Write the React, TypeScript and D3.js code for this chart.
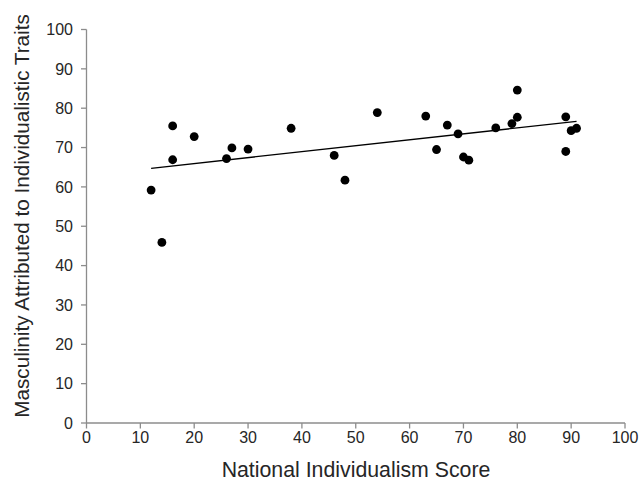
import React from "react";
import * as d3 from "d3";

const xValues = [12, 14, 16, 16, 20, 26, 27, 30, 38, 46, 48, 54, 63, 65, 67, 69, 70, 71, 76, 79, 80, 80, 89, 89, 90, 91];
const yValues = [59.2, 45.9, 75.5, 66.9, 72.8, 67.2, 69.9, 69.6, 74.9, 68.0, 61.7, 78.9, 78.0, 69.5, 75.7, 73.5, 67.6, 66.8, 75.0, 76.1, 77.7, 84.6, 77.8, 69.0, 74.3, 74.9];
const xTicks = [0, 10, 20, 30, 40, 50, 60, 70, 80, 90, 100];
const yTicks = [0, 10, 20, 30, 40, 50, 60, 70, 80, 90, 100];
const xTitle = "National Individualism Score";
const yTitle = "Masculinity Attributed to Individualistic Traits";

export default function App() {
  const W = 643, H = 482;
  const x = d3.scaleLinear().domain([0, 100]).range([86.5, 625]);
  const y = d3.scaleLinear().domain([0, 100]).range([423, 29.5]);

  // least-squares trendline
  const mx = d3.mean(xValues) as number;
  const my = d3.mean(yValues) as number;
  let sxy = 0, sxx = 0;
  xValues.forEach((v, i) => { sxy += (v - mx) * (yValues[i] - my); sxx += (v - mx) * (v - mx); });
  const slope = sxy / sxx;
  const intercept = my - slope * mx;
  const x0 = d3.min(xValues) as number, x1 = d3.max(xValues) as number;
  const line = d3.line<number>().x((d) => x(d)).y((d) => y(intercept + slope * d));

  const font = "Liberation Sans, Arial, sans-serif";
  const axisColor = "#8c8c8c";
  const textColor = "#262626";

  return (
    <svg width={W} height={H} style={{ position: "absolute", left: 0, top: 0, background: "#fff" }} fontFamily={font}>
      <rect width={W} height={H} fill="#fff" />
      {/* axes */}
      <line x1={x(0)} x2={x(0)} y1={y(0)} y2={y(100)} stroke={axisColor} strokeWidth={1.3} />
      <line x1={x(0)} x2={x(100)} y1={y(0)} y2={y(0)} stroke={axisColor} strokeWidth={1.3} />
      {yTicks.map((t) => (
        <g key={"y" + t}>
          <line x1={x(0) - 5.5} x2={x(0)} y1={y(t)} y2={y(t)} stroke={axisColor} strokeWidth={1.3} />
          <text x={73} y={y(t)} dy="0.36em" textAnchor="end" fontSize={16} fill={textColor}>{t}</text>
        </g>
      ))}
      {xTicks.map((t) => (
        <g key={"x" + t}>
          <line x1={x(t)} x2={x(t)} y1={y(0)} y2={y(0) + 5.5} stroke={axisColor} strokeWidth={1.3} />
          <text x={x(t)} y={443} textAnchor="middle" fontSize={16} fill={textColor}>{t}</text>
        </g>
      ))}
      <text x={356} y={476.5} textAnchor="middle" fontSize={21.3} fill={textColor}>{xTitle}</text>
      <text transform={`translate(29,${216}) rotate(-90)`} textAnchor="middle" fontSize={20.7} fill={textColor}>{yTitle}</text>
      {/* trendline */}
      <path d={line([x0, x1]) as string} stroke="#000" strokeWidth={1.3} fill="none" />
      {/* points */}
      {xValues.map((v, i) => (
        <circle key={i} cx={x(v)} cy={y(yValues[i])} r={4.4} fill="#000" />
      ))}
    </svg>
  );
}
